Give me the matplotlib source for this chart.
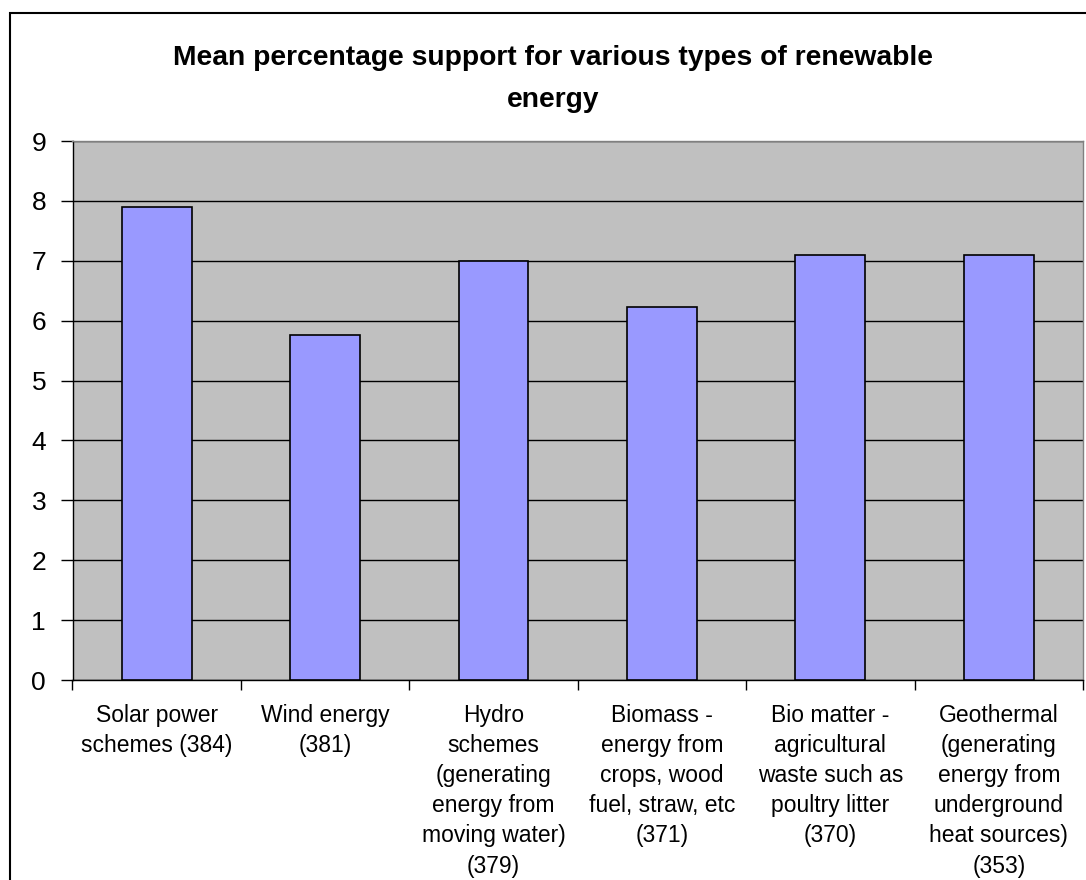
import matplotlib.pyplot as plt
from matplotlib.patches import Rectangle

plt.rcParams['font.family'] = ['Liberation Sans', 'DejaVu Sans']

categories = [
    "Solar power\nschemes (384)",
    "Wind energy\n(381)",
    "Hydro\nschemes\n(generating\nenergy from\nmoving water)\n(379)",
    "Biomass -\nenergy from\ncrops, wood\nfuel, straw, etc\n(371)",
    "Bio matter -\nagricultural\nwaste such as\npoultry litter\n(370)",
    "Geothermal\n(generating\nenergy from\nunderground\nheat sources)\n(353)",
]
mean_support = [7.90, 5.76, 7.00, 6.23, 7.10, 7.10]
y_ticks = list(range(0, 10))

W, H = 1086, 880
fig = plt.figure(figsize=(W / 100, H / 100), dpi=100)
ax = fig.add_axes([72.5 / W, 1 - 680 / H, (1083 - 72.5) / W, (680 - 141) / H])

ax.set_facecolor("#C0C0C0")
x = list(range(len(categories)))
ax.bar(x, mean_support, width=0.415, color="#9999FF", edgecolor="black",
       linewidth=1.2, zorder=3)

ax.set_xlim(-0.5, len(categories) - 0.5)
ax.set_ylim(0, 9)
ax.set_yticks(y_ticks)
ax.tick_params(axis="y", labelsize=19, length=9, width=1, pad=10, direction="out")
ax.yaxis.grid(True, color="black", linewidth=1, zorder=1)
ax.set_axisbelow(True)

# category boundaries carry the tick marks, labels sit centred under the bars
ax.set_xticks([i - 0.5 for i in range(len(categories) + 1)])
ax.set_xticklabels([])
ax.tick_params(axis="x", length=7, width=1, direction="out")
for i, lab in enumerate(categories):
    ax.annotate(lab, xy=(i, 0), xycoords=("data", "axes fraction"),
                xytext=(0, -17), textcoords="offset points",
                ha="center", va="top", fontsize=16.5, linespacing=1.4)

for side in ("left", "bottom"):
    ax.spines[side].set_color("black")
    ax.spines[side].set_linewidth(1)
for side in ("top", "right"):
    ax.spines[side].set_color("#808080")
    ax.spines[side].set_linewidth(1)

fig.text(553 / W, 1 - 79 / H, "Mean percentage support for various types of renewable\nenergy",
         ha="center", va="center", fontsize=20.3, fontweight="bold", linespacing=1.8)

# chart-area frame
fig.patches.append(Rectangle((10 / W, -0.1), 1.2, 1.1 - 13 / H,
                             transform=fig.transFigure, fill=False,
                             edgecolor="black", linewidth=1.5))

fig.savefig("out.png", dpi=100, facecolor="white")
